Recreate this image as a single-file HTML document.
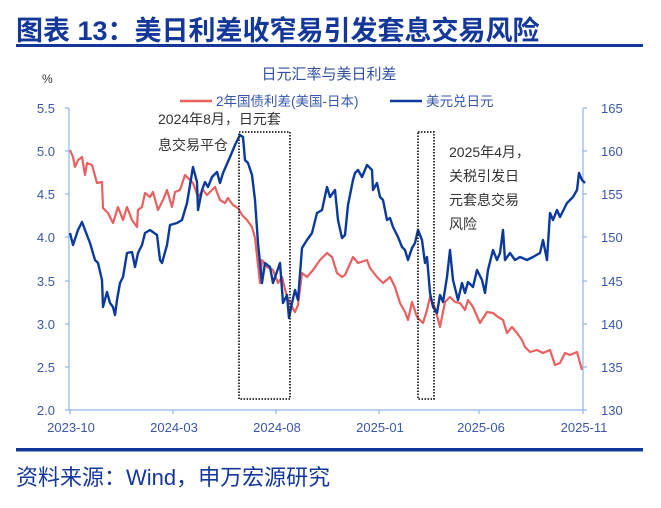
<!DOCTYPE html>
<html><head><meta charset="utf-8"><style>
body{margin:0;background:#fff;width:661px;height:508px;overflow:hidden;font-family:"Liberation Sans","Noto Sans CJK SC",sans-serif}
</style></head><body>
<svg width="661" height="508" xmlns="http://www.w3.org/2000/svg" style="position:absolute;left:0;top:0;font-family:'Liberation Sans','Noto Sans CJK SC',sans-serif">
<text x="16" y="40" font-size="27" font-weight="bold" fill="#14389a">图表 13：美日利差收窄易引发套息交易风险</text>
<rect x="16" y="44" width="627" height="3" fill="#14389a"/>
<rect x="16" y="448" width="627" height="3.5" fill="#14389a"/>
<text x="16" y="485" font-size="22" fill="#14389a">资料来源：Wind，申万宏源研究</text>
<text x="329" y="79" font-size="15" fill="#2f4fa0" text-anchor="middle">日元汇率与美日利差</text>
<text x="42" y="83" font-size="12" fill="#333">%</text>
<line x1="180" y1="101" x2="212" y2="101" stroke="#e8605f" stroke-width="2.5"/>
<text x="216" y="106" font-size="13.5" fill="#3355aa">2年国债利差(美国-日本)</text>
<line x1="390" y1="101" x2="422" y2="101" stroke="#0b3a9c" stroke-width="2.5"/>
<text x="426" y="106" font-size="13.5" fill="#3355aa">美元兑日元</text>
<g stroke="#8fb4e8" stroke-width="1.2">
<line x1="69" y1="108" x2="69" y2="410"/><line x1="583" y1="108" x2="583" y2="410"/>
<line x1="69" y1="410" x2="583" y2="410"/>
<line x1="65" y1="108" x2="69" y2="108"/><line x1="65" y1="151" x2="69" y2="151"/><line x1="65" y1="194" x2="69" y2="194"/><line x1="65" y1="237" x2="69" y2="237"/><line x1="65" y1="281" x2="69" y2="281"/><line x1="65" y1="324" x2="69" y2="324"/><line x1="65" y1="367" x2="69" y2="367"/><line x1="65" y1="410" x2="69" y2="410"/>
<line x1="583" y1="108" x2="587" y2="108"/><line x1="583" y1="151" x2="587" y2="151"/><line x1="583" y1="194" x2="587" y2="194"/><line x1="583" y1="237" x2="587" y2="237"/><line x1="583" y1="281" x2="587" y2="281"/><line x1="583" y1="324" x2="587" y2="324"/><line x1="583" y1="367" x2="587" y2="367"/><line x1="583" y1="410" x2="587" y2="410"/>
<line x1="70" y1="410" x2="70" y2="414"/><line x1="173" y1="410" x2="173" y2="414"/><line x1="276" y1="410" x2="276" y2="414"/><line x1="379" y1="410" x2="379" y2="414"/><line x1="479" y1="410" x2="479" y2="414"/><line x1="583" y1="410" x2="583" y2="414"/>
</g>
<g font-size="13" fill="#3a57a8" text-anchor="end">
<text x="55" y="113">5.5</text><text x="55" y="156">5.0</text><text x="55" y="199">4.5</text><text x="55" y="242">4.0</text><text x="55" y="286">3.5</text><text x="55" y="329">3.0</text><text x="55" y="372">2.5</text><text x="55" y="415">2.0</text>
</g>
<g font-size="13" fill="#3a57a8">
<text x="601" y="113">165</text><text x="601" y="156">160</text><text x="601" y="199">155</text><text x="601" y="242">150</text><text x="601" y="286">145</text><text x="601" y="329">140</text><text x="601" y="372">135</text><text x="601" y="415">130</text>
</g>
<g font-size="13" fill="#3a57a8" text-anchor="middle">
<text x="71" y="432">2023-10</text><text x="174" y="432">2024-03</text><text x="277" y="432">2024-08</text><text x="380" y="432">2025-01</text><text x="481" y="432">2025-06</text><text x="584" y="432">2025-11</text>
</g>
<polyline fill="none" stroke="#e8605f" stroke-width="2.2" stroke-linejoin="round" points="70,150 73,157 75,167 78,160 82,157 85,175 87,163 92,165 97,183 102,182 103,208 108,213 113,223 118,207 123,220 127,207 132,220 137,227 138,210 142,207 145,193 150,197 153,192 158,210 163,200 167,190 172,207 175,192 180,190 185,175 188,178 193,183 198,197 203,190 207,195 212,190 215,187 220,200 225,203 228,198 233,205 238,208 242,215 247,220 252,227 255,238 260,283 262,260 267,267 273,270 278,283 282,277 287,297 292,307 295,312 298,305 302,273 307,277 313,270 320,260 327,253 332,257 337,273 342,277 345,275 353,257 358,263 367,260 370,268 377,277 383,283 390,277 395,287 400,303 405,312 408,320 412,302 417,317 423,323 427,310 430,297 435,308 440,327 445,302 450,297 455,302 460,303 465,310 468,300 473,307 480,323 487,312 493,313 498,317 503,320 507,333 512,327 517,333 522,340 525,347 530,352 537,350 543,353 550,350 555,365 560,363 565,353 570,355 577,352 582,370"/>
<polyline fill="none" stroke="#0b3a9c" stroke-width="2.4" stroke-linejoin="round" points="70,233 73,245 78,230 82,222 85,230 90,243 95,260 98,263 102,280 103,307 107,292 110,303 113,307 115,315 117,300 120,283 123,277 127,253 132,252 135,267 138,253 142,245 145,233 150,230 157,235 160,260 162,263 167,245 170,225 177,223 182,220 187,203 193,167 197,182 198,210 202,190 205,182 208,187 212,177 217,172 220,183 223,173 230,157 235,145 240,135 243,137 245,160 248,163 252,175 255,200 258,243 262,283 265,263 270,267 273,283 280,263 283,303 287,295 289,318 292,303 295,290 298,300 302,248 307,240 312,233 317,213 322,210 327,187 330,197 335,190 338,220 342,238 345,235 348,205 353,180 355,173 358,170 362,177 367,165 372,170 373,190 377,183 380,197 383,200 387,220 390,218 393,227 398,237 402,247 405,250 408,260 412,248 415,243 418,230 422,240 425,263 427,257 430,293 433,307 437,313 440,295 443,302 447,277 450,250 453,280 458,300 462,283 465,293 468,282 473,287 477,270 482,280 485,293 488,270 493,250 497,260 500,253 503,230 505,260 510,253 515,260 520,257 527,260 533,257 540,253 543,240 547,260 550,213 553,220 557,210 560,217 567,203 573,197 577,190 579,173 582,180 585,183"/>
<g fill="none" stroke="#222" stroke-width="1.8" stroke-dasharray="1.5,1.5">
<rect x="239" y="132" width="51" height="267"/>
<rect x="418" y="132" width="16" height="267"/>
</g>
<g font-size="14" fill="#333">
<text x="158" y="124">2024年8月，日元套</text>
<text x="158" y="150">息交易平仓</text>
<text x="449" y="157">2025年4月，</text>
<text x="449" y="181">关税引发日</text>
<text x="449" y="205">元套息交易</text>
<text x="449" y="229">风险</text>
</g>
</svg>
</body></html>
